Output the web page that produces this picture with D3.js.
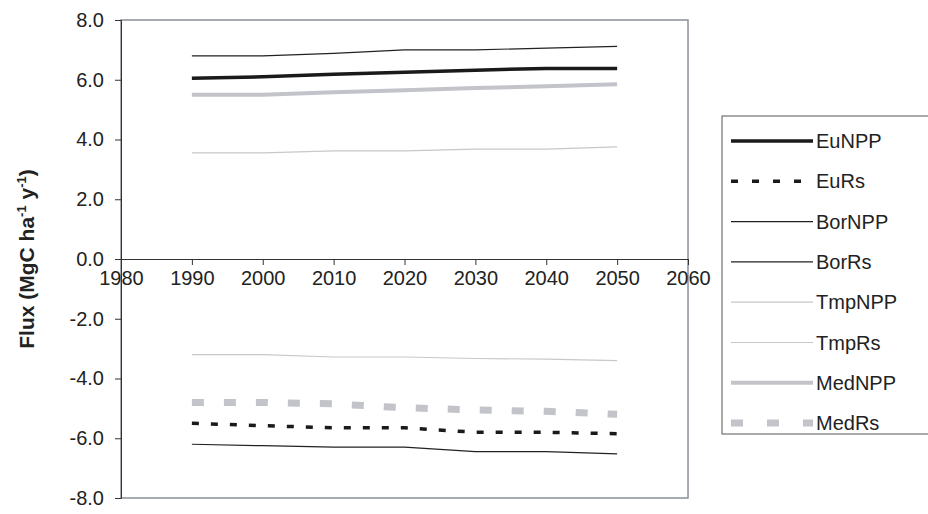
<!DOCTYPE html>
<html><head><meta charset="utf-8">
<script src="https://cdn.jsdelivr.net/npm/d3@7"></script>
<style>body{margin:0;background:#fff}text{font-family:"Liberation Sans",Arial,sans-serif}</style>
</head><body><div class="main"></div>
<script>
var years = [1990, 2000, 2010, 2020, 2030, 2040, 2050];
var EuNPP = [6.05, 6.1, 6.18, 6.25, 6.32, 6.38, 6.38];
var EuRs = [-5.5, -5.58, -5.65, -5.65, -5.8, -5.8, -5.85];
var BorNPP = [6.8, 6.8, 6.88, 7.0, 7.0, 7.06, 7.12];
var BorRs = [-6.2, -6.25, -6.3, -6.3, -6.45, -6.45, -6.52];
var TmpNPP = [3.55, 3.55, 3.62, 3.62, 3.68, 3.68, 3.75];
var TmpRs = [-3.2, -3.2, -3.28, -3.28, -3.33, -3.35, -3.4];
var MedNPP = [5.5, 5.5, 5.58, 5.65, 5.72, 5.78, 5.85];
var MedRs = [-4.8, -4.8, -4.85, -4.98, -5.05, -5.1, -5.2];
var xTicks = [1980, 1990, 2000, 2010, 2020, 2030, 2040, 2050, 2060];
var yTicks = [8, 6, 4, 2, 0, -2, -4, -6, -8];

var series = [
  {name: "EuNPP", v: EuNPP, c: "#1a1a1a", w: 3.5, dash: null},
  {name: "EuRs", v: EuRs, c: "#1a1a1a", w: 3.5, dash: "7,12"},
  {name: "BorNPP", v: BorNPP, c: "#222", w: 1.2, dash: null},
  {name: "BorRs", v: BorRs, c: "#222", w: 1.2, dash: null},
  {name: "TmpNPP", v: TmpNPP, c: "#c8c8cc", w: 1.2, dash: null},
  {name: "TmpRs", v: TmpRs, c: "#c8c8cc", w: 1.2, dash: null},
  {name: "MedNPP", v: MedNPP, c: "#c2c4ca", w: 4, dash: null},
  {name: "MedRs", v: MedRs, c: "#c2c4ca", w: 7, dash: "12,20"}
];

var mLeft = 121, mRight = 688, mTop = 20, mBottom = 498;
var svg = d3.select(".main").append("svg").attr("width", 928).attr("height", 514);
var x = d3.scaleLinear().domain([1980, 2060]).range([mLeft, mRight]);
var y = d3.scaleLinear().domain([-8, 8]).range([mBottom, mTop]);

svg.append("rect").attr("x", mLeft).attr("y", mTop).attr("width", mRight - mLeft).attr("height", mBottom - mTop)
  .attr("fill", "none").attr("stroke", "#8a8f98").attr("stroke-width", 1.5);

var yAxis = svg.append("g").attr("transform", "translate(" + mLeft + ",0)")
  .call(d3.axisLeft(y).tickValues(yTicks).tickFormat(function (d) { return d.toFixed(1); }).tickSize(6));
yAxis.selectAll("text").style("font-size", "20px").attr("fill", "#222").attr("dx", "-8px");
yAxis.selectAll("line,path").attr("stroke", "#333");

var xAxis = svg.append("g").attr("transform", "translate(0," + y(0) + ")")
  .call(d3.axisBottom(x).tickValues(xTicks).tickFormat(d3.format("d")).tickSize(6));
xAxis.selectAll("text").style("font-size", "20px").attr("fill", "#222").attr("dy", "0.85em");
xAxis.selectAll("line,path").attr("stroke", "#333");

var line = d3.line().x(function (d, i) { return x(years[i]); }).y(function (d) { return y(d); });
series.forEach(function (s) {
  svg.append("path").datum(s.v).attr("d", line).attr("fill", "none")
    .attr("stroke", s.c).attr("stroke-width", s.w).attr("stroke-dasharray", s.dash);
});

var title = svg.append("text").attr("transform", "translate(34," + y(0) + ") rotate(-90)")
  .attr("text-anchor", "middle").style("font-size", "21px").style("font-weight", "bold").attr("fill", "#222");
title.append("tspan").text("Flux (MgC ha");
title.append("tspan").attr("dy", "-8").style("font-size", "13px").text("-1");
title.append("tspan").attr("dy", "8").text(" y");
title.append("tspan").attr("dy", "-8").style("font-size", "13px").text("-1");
title.append("tspan").attr("dy", "8").text(")");

var lg = svg.append("g");
lg.append("rect").attr("x", 722).attr("y", 116).attr("width", 210).attr("height", 318)
  .attr("fill", "#fff").attr("stroke", "#555").attr("stroke-width", 1);
series.forEach(function (s, i) {
  var yy = 141 + i * 40.3;
  lg.append("line").attr("x1", 731).attr("x2", 813).attr("y1", yy).attr("y2", yy)
    .attr("stroke", s.c).attr("stroke-width", s.w).attr("stroke-dasharray", s.dash ? (s.name == "EuRs" ? "7,14" : "12,24") : null);
  lg.append("text").attr("x", 816).attr("y", yy + 7).style("font-size", "20px").attr("fill", "#222").text(s.name);
});
</script></body></html>
